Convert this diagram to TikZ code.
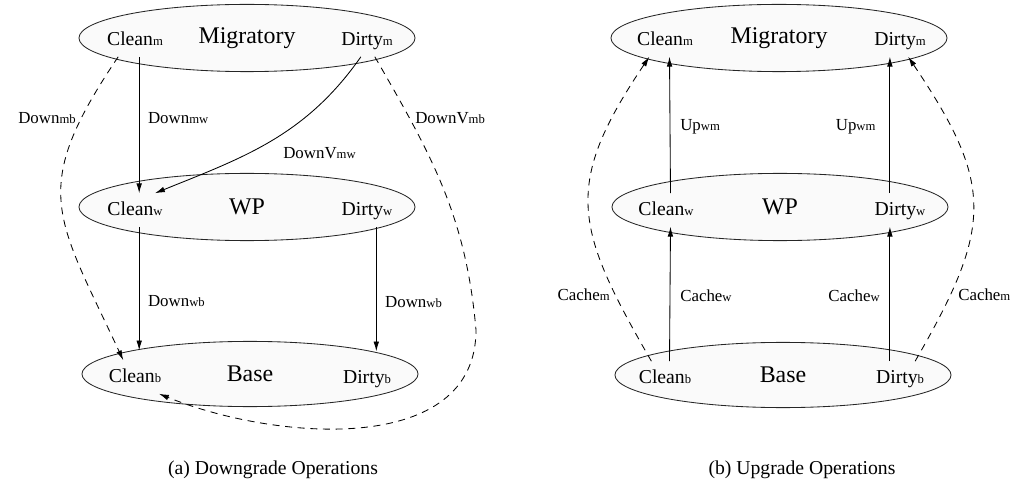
\documentclass[tikz,border=0pt]{standalone}
\usepackage{fontspec}
\setmainfont{Liberation Serif}
\usetikzlibrary{arrows.meta,shapes.geometric}
\tikzset{
  layer/.style={ellipse,draw=black!85,fill=black!2,line width=0.6pt,
    minimum width=8.4cm,minimum height=1.68cm,inner sep=0pt,
    font=\fontsize{17}{17}\selectfont},
  state/.style={inner xsep=1pt,inner ysep=6pt,text height=9.5pt,text depth=2pt,
    font=\fontsize{14}{14}\selectfont},
  op/.style={inner sep=0pt,font=\fontsize{12}{12}\selectfont},
  mv/.style={-{Latex[length=7pt,width=4pt]},line width=0.6pt},
  dmv/.style={mv,dash pattern=on 5pt off 4pt},
  capt/.style={font=\fontsize{14}{14}\selectfont},
}
\newcommand{\tsub}[1]{{\fontsize{9}{9}\selectfont #1}}

\begin{document}
\begin{tikzpicture}[x=0.025cm,y=0.025cm]
  \useasboundingbox (0,0) rectangle (1021,-485);

  % (a) downgrade
  \node[layer] (migA) at (247,-38) {Migratory};
  \node[layer] (wpA) at (247,-207) {WP};
  \node[layer,minimum height=1.63cm] (baseA) at (250,-374) {Base};

  \node[state] (cmA) at (135,-40) {Clean\tsub{m}};
  \node[state] (dmA) at (367,-40) {Dirty\tsub{m}};
  \node[state] (cwA) at (135,-210) {Clean\tsub{w}};
  \node[state] (dwA) at (367,-210) {Dirty\tsub{w}};
  \node[state] (cbA) at (135,-377) {Clean\tsub{b}};
  \node[state] (dbA) at (367,-378) {Dirty\tsub{b}};

  \draw[mv] (cmA.-76) -- node[op,right=6pt,pos=0.45] (lmwA) {Down\tsub{mw}} (cwA.76);
  \draw[mv] (dmA.-110) to[out=-125,in=22] (cwA.40);
  \node[op,anchor=west] (lvmwA) at (283,-153) {DownV\tsub{mw}};
  \draw[mv,shorten >=7pt] (cwA.-76) -- node[op,right=6pt,pos=0.56] (lwbA) {Down\tsub{wb}} (cbA.76);
  \draw[mv,shorten >=7pt] (dwA.-61) -- node[op,right=6pt,pos=0.56] (lwbA2) {Down\tsub{wb}} (dbA.61);

  \draw[dmv] (cmA.-135) to[out=-124,in=115,looseness=1.35] (cbA.125);
  \node[op,anchor=east] (lmbA) at (76,-118) {Down\tsub{mb}};
  \coordinate (bendA) at (476,-330);
  \draw[dmv] (dmA.-65) to[out=-60,in=95] (bendA) to[out=-90,in=-22] (cbA.-35);
  \node[op,anchor=west] (lvmbA) at (415,-118) {DownV\tsub{mb}};

  \node[capt] (captA) at (273,-470) {(a) Downgrade Operations};

  % (b) upgrade
  \node[layer] (migB) at (779,-38) {Migratory};
  \node[layer] (wpB) at (780,-207) {WP};
  \node[layer,minimum height=1.63cm] (baseB) at (783,-375) {Base};

  \node[state] (cmB) at (665,-40) {Clean\tsub{m}};
  \node[state] (dmB) at (900,-40) {Dirty\tsub{m}};
  \node[state] (cwB) at (666,-210) {Clean\tsub{w}};
  \node[state] (dwB) at (900,-210) {Dirty\tsub{w}};
  \node[state] (cbB) at (665,-378) {Clean\tsub{b}};
  \node[state] (dbB) at (900,-378) {Dirty\tsub{b}};

  \draw[mv] (cwB.75) -- node[op,right=7pt,pos=0.49] (lwmB) {Up\tsub{wm}} (cmB.-75);
  \draw[mv] (dwB.121) -- node[op,left=10pt,pos=0.49] (lwmB2) {Up\tsub{wm}} (dmB.-121);
  \draw[mv] (cbB.75) -- node[op,right=7pt,pos=0.49] (lcwB) {Cache\tsub{w}} (cwB.-75);
  \draw[mv] (dbB.121) -- node[op,left=7pt,pos=0.49] (lcwB2) {Cache\tsub{w}} (dwB.-121);

  \draw[dmv] (cbB.129) to[out=120,in=-124,looseness=1.3] (cmB.-133);
  \node[op,anchor=east] (lcmB) at (610,-295) {Cache\tsub{m}};
  \draw[dmv] (dbB.48) to[out=60,in=-56,looseness=1.3] (dmB.-64);
  \node[op,anchor=west] (lcmB2) at (958,-295) {Cache\tsub{m}};

  \node[capt] (captB) at (802,-470) {(b) Upgrade Operations};
\end{tikzpicture}
\end{document}
